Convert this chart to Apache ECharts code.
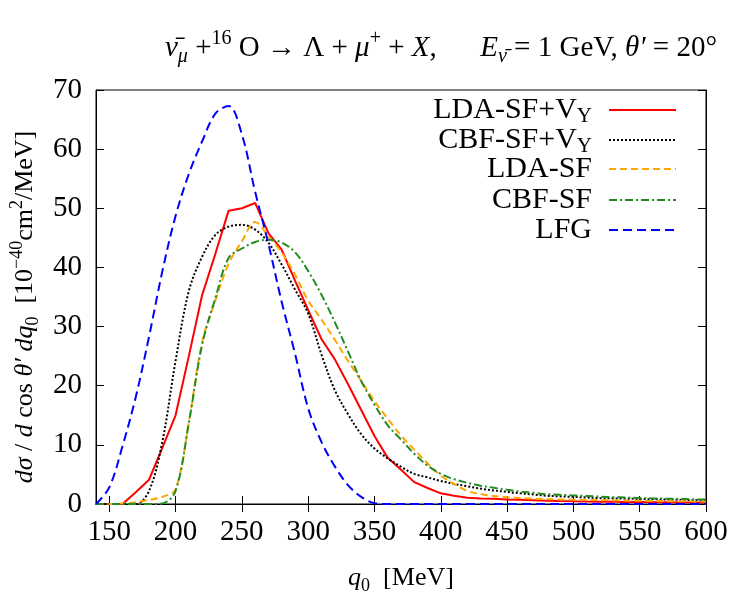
<!DOCTYPE html>
<html>
<head>
<meta charset="utf-8">
<script src="https://cdn.jsdelivr.net/npm/echarts@6/dist/echarts.min.js"></script>
<style>
  html, body { margin: 0; padding: 0; background: #fff; }
  #chart { width: 750px; height: 600px; }
</style>
</head>
<body>
<div id="chart"></div>
<script>
// q0 grid [MeV]
const q0 = [140, 150, 160, 170, 180, 190, 200, 210, 220, 230, 240, 250, 260, 270, 280, 290, 300,
            310, 320, 330, 340, 350, 360, 370, 380, 390, 400, 410, 420, 430, 440, 450, 460, 470,
            480, 490, 500, 510, 520, 530, 540, 550, 560, 570, 580, 590, 600];

// d sigma / d cos theta' d q0  [10^-40 cm^2 / MeV]
const ldaSfVy = [0, 0, 0, 2, 4.1, 9.5, 15, 25, 35.3, 42.3, 49.6, 50, 50.9, 45.8, 43, 37.8, 32.8,
                 27.9, 24.5, 20.3, 15.9, 11.5, 7.8, 5.8, 3.7, 2.7, 1.8, 1.4, 1.07, 0.95, 0.87, 0.78,
                 0.71, 0.64, 0.57, 0.5, 0.45, 0.42, 0.4, 0.37, 0.35, 0.33, 0.3, 0.28, 0.26, 0.24, 0.22];
const cbfSfVy = [0, 0, 0, 0, 2.2, 10.5, 24.2, 36, 41.8, 45.5, 46.9, 47.2, 46.4, 44.2, 40.5, 36.3, 32.2,
                 25.3, 19.3, 15.2, 11.8, 9.4, 7.7, 6.3, 5.1, 4.5, 3.9, 3.4, 3.0, 2.6, 2.3, 2.05,
                 1.8, 1.6, 1.4, 1.3, 1.2, 1.1, 1.0, 0.95, 0.9, 0.85, 0.8, 0.75, 0.7, 0.65, 0.6];
const ldaSf = [0, 0, 0.1, 0.3, 0.7, 1.2, 2.5, 13.8, 27.3, 34.4, 40.6, 44.4, 47.7, 45.3, 42.5, 38.8, 34.4,
               31.2, 27.8, 24.2, 20.8, 17.4, 14.4, 11.6, 9.2, 6.9, 4.8, 3.4, 2.2, 1.7, 1.35, 1.15,
               1.0, 0.9, 0.82, 0.77, 0.73, 0.69, 0.65, 0.61, 0.57, 0.54, 0.51, 0.48, 0.46, 0.44, 0.42];
const cbfSf = [0, 0, 0, 0, 0, 0.1, 2.2, 13.7, 26.9, 34.8, 41.6, 43.2, 44.3, 44.7, 44.2, 42.6, 39.4,
               35.4, 30.8, 25.8, 20.8, 16.8, 13.3, 10.9, 8.5, 6.5, 5.1, 4.2, 3.6, 3.1, 2.75, 2.4,
               2.1, 1.9, 1.65, 1.55, 1.45, 1.35, 1.25, 1.15, 1.1, 1.0, 0.95, 0.9, 0.85, 0.8, 0.75];
const lfg = [0, 2.8, 9.8, 18.1, 28.3, 39.3, 48.7, 55.8, 61.3, 66, 67.3, 62.5, 52.8, 44, 34.2, 25.5, 16.2,
             10.5, 6.4, 3.2, 1.2, 0.15, 0, 0, 0, 0, 0, 0, 0, 0, 0, 0,
             0, 0, 0, 0, 0, 0, 0, 0, 0, 0, 0, 0, 0, 0, 0];

const xTicks = [150, 200, 250, 300, 350, 400, 450, 500, 550, 600];
const seriesNames = ['LDA-SF+VY', 'CBF-SF+VY', 'LDA-SF', 'CBF-SF', 'LFG'];
const legendLabels = ['{L|LDA-SF+V}{Ls|Y}{g|}', '{L|CBF-SF+V}{Ls|Y}{g|}', '{L|LDA-SF}{g|}', '{L|CBF-SF}{g|}', '{L|LFG}{g|}'];

const FONT = 'Liberation Serif';

function txt(size, extra) {
    return Object.assign({ fontFamily: FONT, fontSize: size, fontWeight: 'normal', color: '#000' }, extra || {});
}

const rich = {
    // title
    T: txt(29, { lineHeight: 38 }),
    Ti: txt(29, { fontStyle: 'italic', lineHeight: 38 }),
    Tisub: txt(20, { fontStyle: 'italic', lineHeight: 22, verticalAlign: 'bottom' }),
    Tsup: txt(20, { lineHeight: 22, verticalAlign: 'top' }),
    // axis names
    r: txt(26, { lineHeight: 34 }),
    i: txt(26, { fontStyle: 'italic', lineHeight: 34 }),
    sub: txt(18, { lineHeight: 20, verticalAlign: 'bottom' }),
    sup: txt(18, { lineHeight: 20, verticalAlign: 'top' }),
    // legend
    L: txt(30, { lineHeight: 34 }),
    Ls: txt(21, { lineHeight: 22, verticalAlign: 'bottom' }),
    g: { width: 12 }
};

const styles = [
    { color: '#ff0000', type: 'solid' },
    { color: '#000000', type: [2, 2] },
    { color: '#ffa500', type: [7, 4] },
    { color: '#228b22', type: [8, 3, 2, 3] },
    { color: '#0000ff', type: [9, 5] }
];
const values = [ldaSfVy, cbfSfVy, ldaSf, cbfSf, lfg];
const rowTop = [95, 125, 154, 185, 215];

const chart = echarts.init(document.getElementById('chart'));

const tickStyle = {
    show: true,
    inside: true,
    length: 8,
    lineStyle: { color: '#000', width: 1 }
};

const option = {
    backgroundColor: '#fff',
    animation: false,
    title: {
        text: '{Ti|ν̄}{Tisub|μ}{T| +}{Tsup|16}{T| O → Λ + }{Ti|μ}{Tsup|+}{T| + }{Ti|X}{T|,      }{Ti|E}{Tisub|ν̄}{T| = 1 GeV, }{Ti|θ′}{T| = 20°}',
        left: 160,
        top: 24,
        textStyle: { fontWeight: 'normal', rich: rich }
    },
    legend: seriesNames.map((n, k) => ({
        data: [n],
        right: 73,
        top: rowTop[k],
        padding: 0,
        align: 'right',
        itemWidth: 67,
        itemHeight: 14,
        itemStyle: { opacity: 0 },
        lineStyle: { width: 2 },
        formatter: () => legendLabels[k],
        textStyle: { rich: rich }
    })),
    grid: {
        left: 96,
        right: 44,
        top: 90,
        bottom: 96,
        outerBoundsMode: 'none',
        show: true,
        borderColor: '#000',
        borderWidth: 1
    },
    xAxis: [
        {
            type: 'value',
            min: 140,
            max: 600,
            position: 'bottom',
            name: '{i|q}{sub|0}{r|  [MeV]}',
            nameLocation: 'middle',
            nameGap: 57,
            nameTextStyle: { rich: rich },
            axisLine: { show: true, lineStyle: { color: '#000' } },
            axisTick: Object.assign({ customValues: xTicks }, tickStyle),
            axisLabel: {
                customValues: xTicks,
                color: '#000',
                fontFamily: FONT,
                fontSize: 29,
                margin: 14
            },
            splitLine: { show: false }
        },
        {
            type: 'value',
            min: 140,
            max: 600,
            position: 'top',
            axisLine: { show: true, lineStyle: { color: '#000' } },
            axisTick: Object.assign({ customValues: xTicks }, tickStyle),
            axisLabel: { show: false },
            splitLine: { show: false }
        }
    ],
    yAxis: [
        {
            type: 'value',
            min: 0,
            max: 70,
            interval: 10,
            position: 'left',
            name: '{i|dσ}{r| / }{i|d}{r| cos }{i|θ′ dq}{sub|0}{r|  [10}{sup|−40}{r|cm}{sup|2}{r|/MeV]}',
            nameLocation: 'middle',
            nameRotate: 90,
            nameGap: 49,
            nameTextStyle: { rich: rich, padding: [0, 20, 0, 0] },
            axisLine: { show: true, lineStyle: { color: '#000' } },
            axisTick: tickStyle,
            axisLabel: {
                color: '#000',
                fontFamily: FONT,
                fontSize: 29,
                margin: 14
            },
            splitLine: { show: false }
        },
        {
            type: 'value',
            min: 0,
            max: 70,
            interval: 10,
            position: 'right',
            axisLine: { show: true, lineStyle: { color: '#000' } },
            axisTick: tickStyle,
            axisLabel: { show: false },
            splitLine: { show: false }
        }
    ],
    series: seriesNames.map((n, k) => ({
        name: n,
        type: 'line',
        xAxisIndex: 0,
        yAxisIndex: 0,
        symbol: 'none',
        smooth: k === 0 ? false : 0.35,
        data: q0.map((x, i) => [x, values[k][i]]),
        lineStyle: { width: 2, color: styles[k].color, type: styles[k].type },
        itemStyle: { color: styles[k].color },
        z: 2 + k
    }))
};

chart.setOption(option);
</script>
</body>
</html>
